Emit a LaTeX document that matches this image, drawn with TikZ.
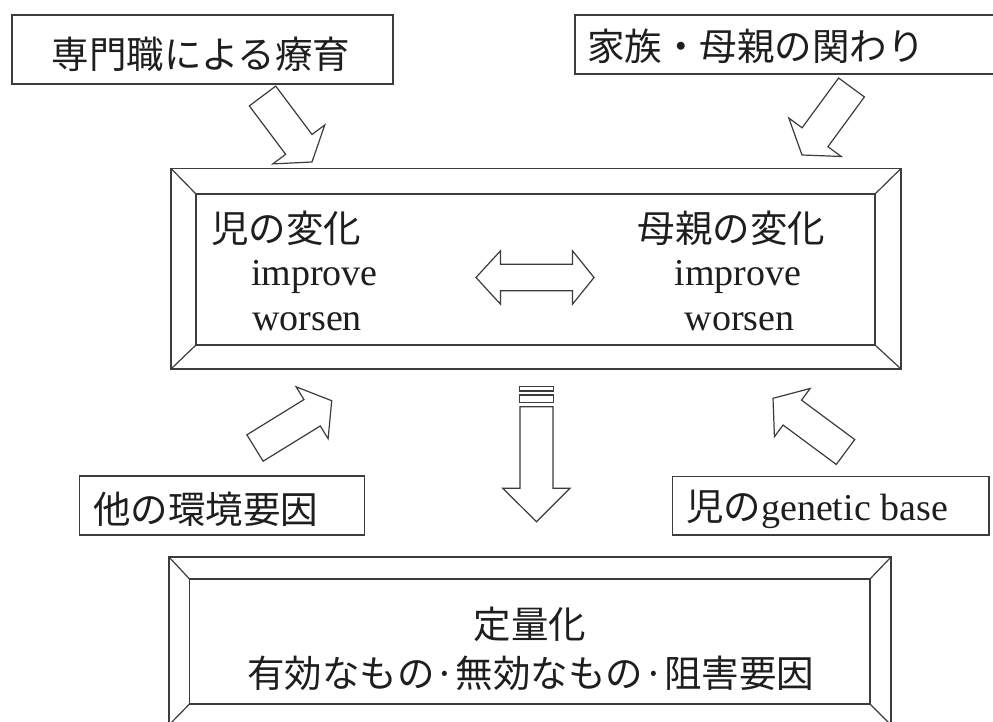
\documentclass[tikz,border=0pt]{standalone}
\usepackage{fontspec}
\setmainfont{Liberation Serif}
\newfontfamily\jpfont{Noto Sans CJK JP}
\usetikzlibrary{calc}
\definecolor{linegray}{HTML}{3C3C3C}
\definecolor{txt}{HTML}{1E1E1E}
\tikzset{
  ln/.style={draw=linegray, line width=1.2pt, line join=miter},
  boxstyle/.style={ln, fill=white, rectangle, inner sep=0pt},
  jptext/.style={font=\jpfont\fontsize{37.5}{40}\selectfont, text=txt, inner sep=0pt},
  entext/.style={font=\fontsize{38}{40}\selectfont, text=txt, inner sep=0pt},
}
% block arrow: #1 tail, #2 tip, #3 shaft half width, #4 head half width, #5 head length
\newcommand\blockarrow[5]{%
  \path ($(#2)!#5!(#1)$) coordinate (hb);
  \draw[ln, fill=white] ($(#1)!#3!90:(#2)$) -- ($(hb)!#3!90:(#2)$) -- ($(hb)!#4!90:(#2)$)
    -- (#2) -- ($(hb)!#4!-90:(#2)$) -- ($(hb)!#3!-90:(#2)$) -- ($(#1)!#3!-90:(#2)$) -- cycle;}
\begin{document}
\begin{tikzpicture}[x=1pt, y=-1pt]
\useasboundingbox (0,0) rectangle (993,722);
\fill[white] (0,0) rectangle (993,722);

% ---------- top boxes ----------
\node[boxstyle, minimum width=381pt, minimum height=69pt] (ptbox) at (202.5,49.5) {};
\node[jptext, anchor=base] (pt) at (201,68.5) {専門職による療育};
\node[boxstyle, minimum width=430pt, minimum height=59pt] (fmbox) at (790,44.5) {};
\node[jptext, anchor=base west] (fm) at (587,61) {家族・母親の関わり};

% ---------- main beveled box ----------
\coordinate (mo1) at (171,168.5);
\coordinate (mo2) at (901,369);
\coordinate (mi1) at (196,194);
\coordinate (mi2) at (875,345);
\draw[ln] (mo1) rectangle (mo2);
\draw[ln] (mi1) rectangle (mi2);
\draw[ln] (mo1) -- (mi1);
\draw[ln] (mo2 |- mo1) -- (mi2 |- mi1);
\draw[ln] (mo2) -- (mi2);
\draw[ln] (mo1 |- mo2) -- (mi1 |- mi2);

\node[jptext, anchor=base west] (child) at (211,243) {児の変化};
\node[entext, anchor=base west] (cimp) at (251,285) {improve};
\node[entext, anchor=base west] (cwor) at (252,330) {worsen};
\node[jptext, anchor=base] (mother) at (731.5,242) {母親の変化};
\node[entext, anchor=base] (mimp) at (738,285) {improve};
\node[entext, anchor=base] (mwor) at (739.5,330) {worsen};

% double arrow
\coordinate (dl) at (476,277.5);
\coordinate (dr) at (594,277.5);
\draw[ln, fill=white] (dl) -- ($(dl)+(24.5,-26.7)$) -- ($(dl)+(24.5,-13.3)$)
  -- ($(dr)+(-21.5,-13.3)$) -- ($(dr)+(-21.5,-26.7)$) -- (dr)
  -- ($(dr)+(-21.5,26.7)$) -- ($(dr)+(-21.5,13.3)$)
  -- ($(dl)+(24.5,13.3)$) -- ($(dl)+(24.5,26.7)$) -- cycle;

% ---------- diagonal block arrows ----------
\coordinate (a1t) at (262.5,96);   \coordinate (a1h) at (312,162);
\coordinate (a2t) at (851.5,87.5); \coordinate (a2h) at (802,155);
\coordinate (a3t) at (255,448);    \coordinate (a3h) at (331.7,400.7);
\coordinate (a4t) at (845.5,452);  \coordinate (a4h) at (773,398.3);
\blockarrow{a1t}{a1h}{16.5pt}{32.5pt}{22pt}
\blockarrow{a2t}{a2h}{16pt}{32.5pt}{22pt}
\blockarrow{a3t}{a3h}{15.5pt}{30.5pt}{23pt}
\blockarrow{a4t}{a4h}{15.5pt}{30pt}{24pt}

% ---------- striped down arrow ----------
\coordinate (dtop) at (536.5,406.7);
\coordinate (dtip) at (536.5,521.7);
\draw[ln, fill=white] (519.5,386.7) rectangle (553.5,391);
\draw[ln, fill=white] (519.5,395) rectangle (553.5,402.3);
\draw[ln, fill=white] ($(dtop)+(-16.5,0)$) -- ($(dtip)+(-16.5,-33.4)$) -- ($(dtip)+(-33.8,-33.4)$)
  -- (dtip) -- ($(dtip)+(33.5,-33.4)$) -- ($(dtip)+(16.5,-33.4)$) -- ($(dtop)+(16.5,0)$) -- cycle;

% ---------- lower boxes ----------
\node[boxstyle, minimum width=285pt, minimum height=59pt] (envbox) at (221.8,505.5) {};
\node[jptext, anchor=base west] (env) at (93,523) {他の環境要因};
\node[boxstyle, minimum width=316.7pt, minimum height=58.3pt] (genbox) at (830.7,505.8) {};
\node[anchor=base west, inner sep=0pt, text=txt] (gen) at (686,520.5)
  {{\jpfont\fontsize{37.5}{40}\selectfont 児の}{\fontsize{38}{40}\selectfont genetic base}};

% ---------- bottom beveled box ----------
\coordinate (bo1) at (169,557);
\coordinate (bo2) at (891,725);
\coordinate (bi1) at (189.5,579);
\coordinate (bi2) at (870,704);
\draw[ln] (bo1) rectangle (bo2);
\draw[ln] (bi1) rectangle (bi2);
\draw[ln] (bo1) -- (bi1);
\draw[ln] (bo2 |- bo1) -- (bi2 |- bi1);
\draw[ln] (bo2) -- (bi2);
\draw[ln] (bo1 |- bo2) -- (bi1 |- bi2);
\node[jptext, anchor=base] (quant) at (529.8,638) {定量化};
\node[jptext, anchor=base] (eff) at (530.7,687) {有効なもの·無効なもの·阻害要因};
\end{tikzpicture}
\end{document}
